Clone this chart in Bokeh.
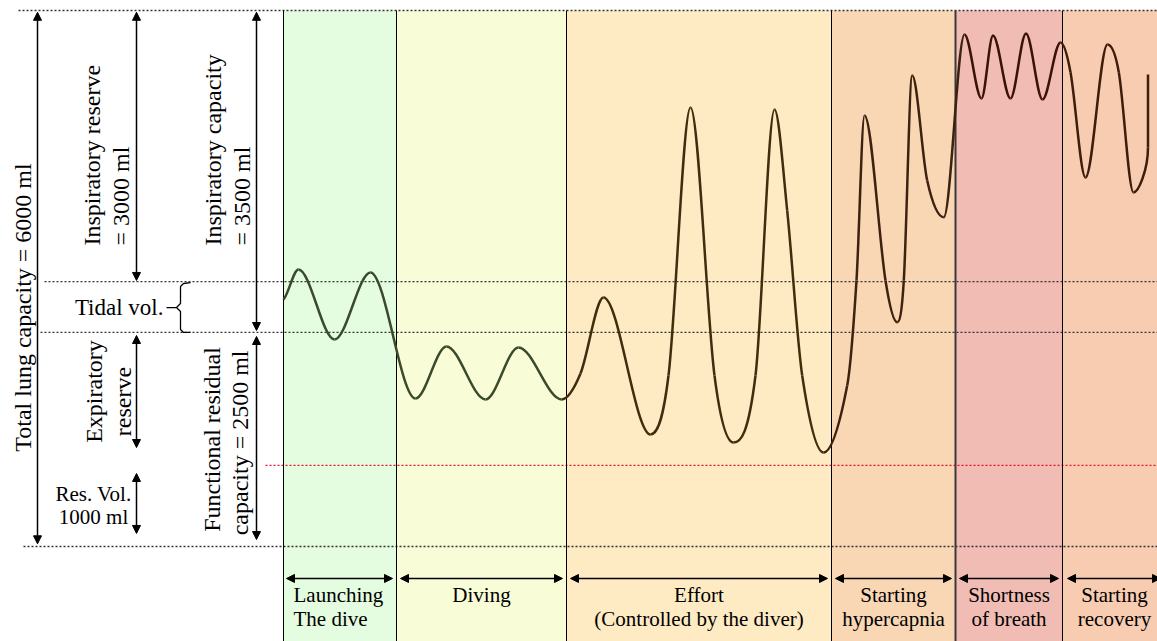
import math
from bokeh.plotting import figure
from bokeh.models import Range1d, Arrow, NormalHead
from bokeh.embed import file_html
from bokeh.resources import INLINE
from bokeh.core.properties import value

# ---------------- data ----------------
# lung-volume levels (ml) as drawn on the diagram
TLC = 6000          # total lung capacity (top dotted line)
TIDAL_TOP = 2966    # end of inspiratory reserve / top of a tidal breath
TIDAL_BOTTOM = 2396 # bottom of a tidal breath
RV_LINE = 907       # red dotted line (residual volume limit)
ZERO = 0            # bottom dotted line

# phases of the dive (time axis, arbitrary units)
phase_labels_1 = ["Launching", "Diving", "Effort", "Starting", "Shortness", "Starting"]
phase_labels_2 = ["The dive", "", "(Controlled by the diver)", "hypercapnia", "of breath", "recovery"]
phase_start = [283, 396, 566, 831, 955, 1062]
phase_end = [396, 566, 831, 955, 1062, 1160]
phase_colors = ["#e4fcdf", "#f8fdd8", "#feebc4", "#f9d6b4", "#f0bcb3", "#f8ccb0"]
trace_colors = ["#3b4a2b", "#3b4a2b", "#3f2d0e", "#3d2210", "#3a1208", "#3f1d0a"]

# breathing trace: points (time, volume in ml)
trace_t = [283, 298, 334, 370, 415, 446, 485, 518, 561, 580, 603, 650, 668, 690,
           714, 733, 755, 774, 786.7, 801.7, 823, 846.7, 856, 864, 885, 896.7,
           903.3, 911.7, 926.7, 943.3, 964, 981, 992.5, 1010, 1025.5, 1042, 1060,
           1070, 1085, 1107, 1118.3, 1133, 1147.5]
trace_v = [2765, 3101, 2317, 3067, 1657, 2239, 1646, 2228, 1646, 1937, 2787, 1254,
           1914, 4914, 1914, 1164, 1914, 4892, 3761, 1914, 1052, 1802, 2978, 4825,
           2978, 2511, 2978, 5272, 4097, 3686, 5731, 5015, 5720, 5015, 5743, 5004,
           5642, 5309, 4131, 5619, 5309, 3963, 4466]
trace_end_v = 5284  # last, straight inspiration

# ---------------- figure ----------------
PX = 6000 / 536.0  # ml per screen pixel of the diagram
p = figure(width=1157, height=641, x_range=Range1d(0, 1157),
           y_range=Range1d((546 - 641) * PX, 546 * PX),
           output_backend="svg", toolbar_location=None, min_border=0)
p.axis.visible = False
p.grid.visible = False
p.outline_line_color = None
p.background_fill_color = "white"
p.border_fill_color = "white"

FONT = value("Liberation Serif")

# phase bands
p.quad(left=phase_start, right=phase_end, top=[TLC] * 6, bottom=[-2000] * 6,
       fill_color=phase_colors, line_color=None)

# dotted level lines
lvl_y = [TLC, TIDAL_TOP, TIDAL_BOTTOM, ZERO]
lvl_x0 = [18, 44, 40, 23]
p.segment(x0=lvl_x0, y0=lvl_y, x1=[1160] * 4, y1=lvl_y,
          line_color="#333333", line_width=1.3, line_dash="2 2")
p.segment(x0=[265], y0=[RV_LINE], x1=[1160], y1=[RV_LINE],
          line_color="#e8102c", line_width=1.3, line_dash="2 2")

# band borders
p.segment(x0=phase_start, y0=[TLC] * 6, x1=phase_start, y1=[-2000] * 6,
          line_color=["black", "black", "black", "black", "#3a3a3a", "black"],
          line_width=[1, 1, 1, 1, 2, 1])

# breathing trace: cubic Hermite (bezier) pieces through the read points,
# flat at turning points
n = len(trace_t)
slope = []
for i in range(n):
    if i == 0:
        slope.append((trace_v[1] - trace_v[0]) / (trace_t[1] - trace_t[0]) * 0.5)
    elif i == n - 1:
        slope.append(None)  # vertical arrival
    else:
        a, b, c = trace_v[i - 1], trace_v[i], trace_v[i + 1]
        if (b - a) * (c - b) <= 0:
            slope.append(0.0)
        else:
            slope.append((c - a) / (trace_t[i + 1] - trace_t[i - 1]))
bx0, by0, bx1, by1, cx0, cy0, cx1, cy1, bcol = [], [], [], [], [], [], [], [], []
for i in range(n - 1):
    x0, y0, x1, y1 = trace_t[i], trace_v[i], trace_t[i + 1], trace_v[i + 1]
    d = (x1 - x0) / 3.0
    bx0.append(x0); by0.append(y0); bx1.append(x1); by1.append(y1)
    cx0.append(x0 + d); cy0.append(y0 + slope[i] * d)
    if slope[i + 1] is None:
        cx1.append(x1); cy1.append(0.5 * (y0 + y1))
    else:
        cx1.append(x1 - d); cy1.append(y1 - slope[i + 1] * d)
    mid = 0.5 * (x0 + x1)
    ph = max(j for j in range(6) if phase_start[j] <= mid)
    bcol.append(trace_colors[ph])
p.bezier(x0=bx0, y0=by0, x1=bx1, y1=by1, cx0=cx0, cy0=cy0, cx1=cx1, cy1=cy1,
         line_color=bcol, line_width=2.5)
p.segment(x0=[trace_t[-1]], y0=[trace_v[-1]], x1=[trace_t[-1]], y1=[trace_end_v],
          line_color=trace_colors[-1], line_width=2.5)

# ---------------- left annotations ----------------
def varrow(x, ys, ye):
    p.add_layout(Arrow(x_start=x, y_start=ys, x_end=x, y_end=ye, line_width=1.5,
                       line_color="black",
                       start=NormalHead(size=8, fill_color="black", line_color="black"),
                       end=NormalHead(size=8, fill_color="black", line_color="black")))

varrow(37, 5980, 30)      # total lung capacity
varrow(136, 5980, 2978)   # inspiratory reserve
varrow(256, 5980, 2418)   # inspiratory capacity
varrow(136, 2362, 1108)   # expiratory reserve
varrow(136, 817, 146)     # residual volume
varrow(256, 2351, 78)     # functional residual capacity

rot = math.pi / 2
# rotated labels, centred
p.text(x=[22, 93, 122, 211, 239], y=[2675, 1735, 1623, 1198, 1160],
       text=["Total lung capacity = 6000 ml", "Expiratory", "reserve",
             "Functional residual", "capacity = 2500 ml"],
       angle=rot, text_align="center", text_baseline="middle",
       text_font=FONT, text_font_size="24px", text_color="black")
# rotated labels, starting at the bottom
p.text(x=[91, 120, 212, 241], y=[3369] * 4,
       text=["Inspiratory reserve", "= 3000 ml", "Inspiratory capacity", "= 3500 ml"],
       angle=rot, text_align="left", text_baseline="middle",
       text_font=FONT, text_font_size="24px", text_color="black")
# residual volume
p.text(x=[93, 93], y=[593, 325], text=["Res. Vol.", "1000 ml"],
       text_align="center", text_baseline="middle",
       text_font=FONT, text_font_size="21px", text_color="black")
# tidal volume with brace
p.text(x=[163], y=[2675], text=["Tidal vol."], text_align="right", text_baseline="middle",
       text_font=FONT, text_font_size="23px", text_color="black")
brace_x = [190, 183, 180, 180, 176, 180, 180, 183, 190]
brace_y = [2955, 2944, 2910, 2720, 2675, 2631, 2429, 2396, 2396]
p.line(x=brace_x, y=brace_y, line_color="black", line_width=1.3)
p.segment(x0=[166], y0=[2675], x1=[176], y1=[2675], line_color="black", line_width=1.3)

# ---------------- phase arrows and labels ----------------
arrow_y = -358
pad_l = [3, 4, 4, 4, 4, 5]
pad_r = [4, 4, 4, 4, 4, 0]
for j in range(6):
    p.add_layout(Arrow(x_start=phase_start[j] + pad_l[j], y_start=arrow_y,
                       x_end=phase_end[j] - pad_r[j], y_end=arrow_y,
                       line_width=1.5, line_color="black",
                       start=NormalHead(size=8, fill_color="black", line_color="black"),
                       end=NormalHead(size=8, fill_color="black", line_color="black")))

label_x = [0.5 * (a + b) for a, b in zip(phase_start, phase_end)]
label_x[5] = 1114
# first label is left-aligned in its band
p.text(x=[293, 293], y=[-548, -806], text=[phase_labels_1[0], phase_labels_2[0]],
       text_align="left", text_baseline="middle",
       text_font=FONT, text_font_size="21px", text_color="black")
p.text(x=label_x[1:], y=[-548] * 5, text=phase_labels_1[1:],
       text_align="center", text_baseline="middle",
       text_font=FONT, text_font_size="21px", text_color="black")
p.text(x=label_x[1:], y=[-806] * 5, text=phase_labels_2[1:],
       text_align="center", text_baseline="middle",
       text_font=FONT, text_font_size="21px", text_color="black")

open("out.html", "w").write(file_html(p, INLINE))
